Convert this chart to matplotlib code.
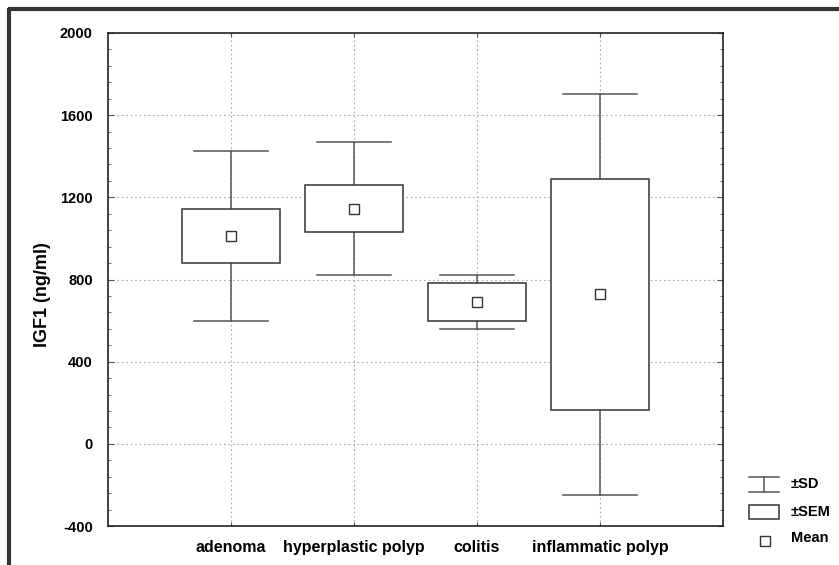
import matplotlib
matplotlib.use('Agg')
import matplotlib.pyplot as plt
from matplotlib.lines import Line2D
from matplotlib.patches import Rectangle
from matplotlib.ticker import MultipleLocator

# values (IGF1, ng/ml)
groups = ['adenoma', 'hyperplastic polyp', 'colitis', 'inflammatic polyp']
means = [1012, 1145, 690, 728]
sem = [130, 115, 92, 562]
sd = [415, 325, 132, 975]

y_ticks = [-400, 0, 400, 800, 1200, 1600, 2000]

W, H = 839, 565
plt.rcParams['font.family'] = ['Liberation Sans', 'DejaVu Sans']
plt.rcParams['font.weight'] = 'bold'
plt.rcParams['axes.unicode_minus'] = False

fig = plt.figure(figsize=(W / 100, H / 100), dpi=100)


def fx(px):
    return px / W


def fy(py):
    return 1 - py / H


ax = fig.add_axes([fx(108), fy(526), fx(723) - fx(108), fy(33) - fy(526)])

xs = list(range(1, len(groups) + 1))
box_w = 0.8
cap_w = 0.6
edge = '#333333'
wcol = '#555555'

for x, m, se, s in zip(xs, means, sem, sd):
    # whiskers (+-SD)
    ax.plot([x, x], [m + se, m + s], color=wcol, lw=1.1, zorder=3)
    ax.plot([x, x], [m - se, m - s], color=wcol, lw=1.1, zorder=3)
    ax.plot([x - cap_w / 2, x + cap_w / 2], [m + s, m + s], color=wcol, lw=1.1, zorder=3)
    ax.plot([x - cap_w / 2, x + cap_w / 2], [m - s, m - s], color=wcol, lw=1.1, zorder=3)
    # box (+-SEM)
    ax.add_patch(Rectangle((x - box_w / 2, m - se), box_w, 2 * se,
                           facecolor='white', edgecolor=edge, lw=1.1, zorder=4))
# means
ax.plot(xs, means, ls='none', marker='s', ms=7, mfc='white', mec=edge, mew=1.0, zorder=5)

ax.set_xlim(0, len(groups) + 1)
ax.set_ylim(-400, 2000)
ax.set_yticks(y_ticks)
ax.yaxis.set_minor_locator(MultipleLocator(80))
ax.set_xticks(xs)
ax.set_xticklabels(groups, fontsize=11.5, fontweight='bold')
ax.tick_params(axis='x', direction='in', length=3, top=True, pad=10, color='#555555')
ax.tick_params(axis='y', which='both', direction='in', right=True, labelsize=10.5, pad=11,
               color='#555555')
ax.tick_params(axis='y', which='major', length=4)
ax.tick_params(axis='y', which='minor', length=2)
ax.grid(True, which='major', color='#aaaaaa', ls=(0, (1.5, 2.5)), lw=0.8)
ax.set_axisbelow(True)
for sp in ax.spines.values():
    sp.set_color('#222222')
    sp.set_linewidth(1.2)
ax.set_ylabel('IGF1 (ng/ml)', fontsize=13, fontweight='bold')
ax.yaxis.set_label_coords(-0.093, 0.469)

# legend drawn by hand, like the Statistica one
x0, x1 = fx(749), fx(779)
xm = (x0 + x1) / 2
lk = dict(color=wcol, lw=1.1, transform=fig.transFigure)
fig.add_artist(Line2D([x0, x1], [fy(477), fy(477)], **lk))
fig.add_artist(Line2D([x0, x1], [fy(492), fy(492)], **lk))
fig.add_artist(Line2D([xm, xm], [fy(477), fy(492)], **lk))
fig.add_artist(Rectangle((x0, fy(519)), x1 - x0, fy(505) - fy(519), transform=fig.transFigure,
                         facecolor='white', edgecolor=edge, lw=1.1))
fig.add_artist(Line2D([fx(765)], [fy(541)], ls='none', marker='s', ms=7, mfc='white',
                      mec=edge, mew=1.0, transform=fig.transFigure))
for label, py in [('\u00b1SD', 484), ('\u00b1SEM', 512), ('Mean', 538)]:
    fig.text(fx(791), fy(py), label, fontsize=10.5, fontweight='bold', va='center', ha='left')

# outer frame (top and left edges only, the rest is cropped)
fk = dict(color='#333333', lw=3, transform=fig.transFigure, solid_capstyle='butt')
fig.add_artist(Line2D([fx(8), 1], [fy(9), fy(9)], **fk))
fig.add_artist(Line2D([fx(9), fx(9)], [fy(8), 0], **fk))

fig.savefig('out.png', dpi=100)
